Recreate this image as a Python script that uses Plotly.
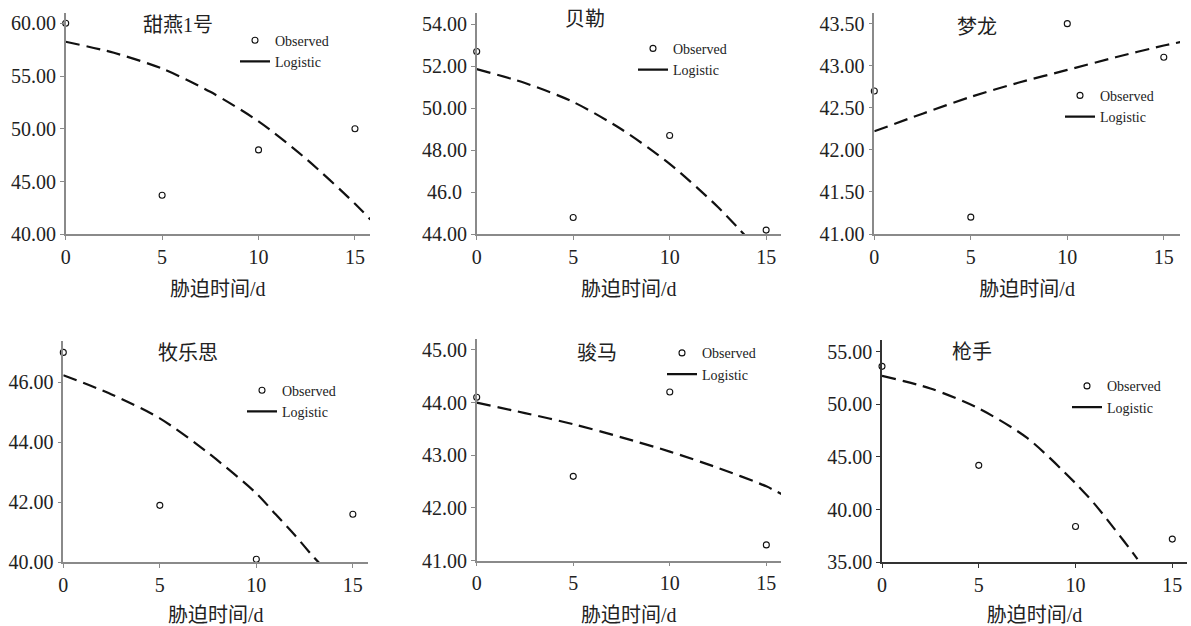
import plotly.graph_objects as go

W, H = 1191, 626

# ---------------- data ----------------
cultivars = ["甜燕1号", "贝勒", "梦龙", "牧乐思", "骏马", "枪手"]
days = [0, 5, 10, 15]

obs_tianyan = [60.0, 43.7, 48.0, 50.0]
obs_beile = [52.7, 44.8, 48.7, 44.2]
obs_menglong = [42.7, 41.2, 43.5, 43.1]
obs_mulesi = [47.0, 41.9, 40.1, 41.6]
obs_junma = [44.1, 42.6, 44.2, 41.3]
obs_qiangshou = [53.6, 44.2, 38.4, 37.2]

fit_x_tianyan = [0, 2.5, 5, 7.5, 10, 12.5, 15, 15.8]
fit_tianyan = [58.25, 57.2, 55.7, 53.5, 50.7, 47.1, 42.9, 41.4]
fit_x_beile = [0, 2.5, 5, 7.5, 10, 12.5, 13.9]
fit_beile = [51.86, 51.2, 50.3, 49.0, 47.35, 45.3, 43.95]
fit_x_menglong = [0, 2.5, 5, 7.5, 10, 12.5, 15, 15.85]
fit_menglong = [42.22, 42.43, 42.63, 42.8, 42.95, 43.1, 43.24, 43.28]
fit_x_mulesi = [0, 2.5, 5, 7.5, 10, 11, 12, 13, 13.3]
fit_mulesi = [46.24, 45.6, 44.8, 43.65, 42.3, 41.6, 40.9, 40.15, 39.95]
fit_x_junma = [0, 2.5, 5, 7.5, 10, 12.5, 15, 15.8]
fit_junma = [44.0, 43.8, 43.59, 43.34, 43.07, 42.76, 42.41, 42.26]
fit_x_qiangshou = [0, 2.5, 5, 7.5, 10, 11, 12, 13, 13.2]
fit_qiangshou = [52.7, 51.5, 49.6, 46.8, 42.5, 40.5, 38.2, 35.8, 35.3]

x_tickvals = [0, 5, 10, 15]
x_ticktext = ["0", "5", "10", "15"]

yticks_tianyan = [40, 45, 50, 55, 60]
ylabels_tianyan = ["40.00", "45.00", "50.00", "55.00", "60.00"]
yticks_beile = [44, 46, 48, 50, 52, 54]
ylabels_beile = ["44.00", "46.0 ", "48.00", "50.00", "52.00", "54.00"]
yticks_menglong = [41.0, 41.5, 42.0, 42.5, 43.0, 43.5]
ylabels_menglong = ["41.00", "41.50", "42.00", "42.50", "43.00", "43.50"]
yticks_mulesi = [40, 42, 44, 46]
ylabels_mulesi = ["40.00", "42.00", "44.00", "46.00"]
yticks_junma = [41, 42, 43, 44, 45]
ylabels_junma = ["41.00", "42.00", "43.00", "44.00", "45.00"]
yticks_qiangshou = [35, 40, 45, 50, 55]
ylabels_qiangshou = ["35.00", "40.00", "45.00", "50.00", "55.00"]

x_title = "胁迫时间/d"
legend_names = ["Observed", "Logistic"]

# ---------------- layout (pixel boxes) ----------------
panels = [
    dict(name=cultivars[0], obs=obs_tianyan, fx=fit_x_tianyan, fy=fit_tianyan,
         yt=yticks_tianyan, yl=ylabels_tianyan, xr=[0, 15.78], yr=[40, 61.0],
         box=(65.7, 370, 12.7, 234.3), title=(178, 25), leg=(235, 24.6), axc="#8a8a8a"),
    dict(name=cultivars[1], obs=obs_beile, fx=fit_x_beile, fy=fit_beile,
         yt=yticks_beile, yl=ylabels_beile, xr=[0, 15.77], yr=[44, 54.52],
         box=(476.7, 781, 13.3, 234.3), title=(585, 19), leg=(633, 32.8), axc="#8a8a8a"),
    dict(name=cultivars[2], obs=obs_menglong, fx=fit_x_menglong, fy=fit_menglong,
         yt=yticks_menglong, yl=ylabels_menglong, xr=[0, 15.84], yr=[41.0, 43.63],
         box=(874.3, 1180, 12.7, 234.0), title=(977, 27), leg=(1060, 79.8), axc="#8a8a8a"),
    dict(name=cultivars[3], obs=obs_mulesi, fx=fit_x_mulesi, fy=fit_mulesi,
         yt=yticks_mulesi, yl=ylabels_mulesi, xr=[0, 15.8], yr=[40, 47.39],
         box=(63.3, 368.3, 340.7, 562.3), title=(188, 353), leg=(242, 374.6), axc="#8a8a8a"),
    dict(name=cultivars[4], obs=obs_junma, fx=fit_x_junma, fy=fit_junma,
         yt=yticks_junma, yl=ylabels_junma, xr=[0, 15.76], yr=[41, 45.2],
         box=(476.7, 781, 339.3, 560.7), title=(597, 353), leg=(662, 337.3), axc="#8a8a8a"),
    dict(name=cultivars[5], obs=obs_qiangshou, fx=fit_x_qiangshou, fy=fit_qiangshou,
         yt=yticks_qiangshou, yl=ylabels_qiangshou, xr=[0, 15.76], yr=[35, 56.1],
         box=(882, 1187, 340, 562.3), title=(972, 352), leg=(1067, 370.3), axc="#333333"),
]

LATIN = "Liberation Serif, Tinos, Times New Roman, DejaVu Serif, serif"
MIXED = "Liberation Serif, Noto Sans CJK SC"
INK = "#222222"

fig = go.Figure()
layout = dict(
    width=W, height=H,
    margin=dict(l=0, r=0, t=0, b=0, autoexpand=False),
    paper_bgcolor="white", plot_bgcolor="white",
    showlegend=True,
    annotations=[],
)

for i, p in enumerate(panels):
    k = "" if i == 0 else str(i + 1)
    xa, ya = "x" + k, "y" + k
    lg = "legend" + k
    x0, x1, y0, y1 = p["box"]

    fig.add_trace(go.Scatter(
        x=p["fx"], y=p["fy"], mode="lines", xaxis=xa, yaxis=ya,
        line=dict(color="#111111", width=2.2, dash="14px,7px", shape="spline", smoothing=0.8),
        showlegend=False, hoverinfo="skip"))
    fig.add_trace(go.Scatter(
        x=days, y=p["obs"], mode="markers", xaxis=xa, yaxis=ya, name=legend_names[0],
        marker=dict(symbol="circle-open", size=6, color="#111111", line=dict(width=1.1)),
        cliponaxis=False, legend=lg, showlegend=True))
    # legend-only entry for the fitted curve
    fig.add_trace(go.Scatter(
        x=[None], y=[None], mode="lines", xaxis=xa, yaxis=ya, name=legend_names[1],
        line=dict(color="#111111", width=2.2), legend=lg, showlegend=True))

    layout["xaxis" + k] = dict(
        domain=[x0 / W, x1 / W], anchor=ya, range=p["xr"],
        tickvals=x_tickvals, ticktext=x_ticktext,
        showgrid=False, zeroline=False, showline=True, linecolor=p["axc"], linewidth=1.5,
        ticks="outside", ticklen=4, tickcolor=p["axc"], tickwidth=1,
        tickfont=dict(family=LATIN, size=20, color=INK),
        title=dict(text=x_title, font=dict(family=MIXED, size=20, color=INK), standoff=15),
    )
    layout["yaxis" + k] = dict(
        domain=[1 - y1 / H, 1 - y0 / H], anchor=xa, range=p["yr"],
        tickvals=p["yt"], ticktext=p["yl"],
        showgrid=False, zeroline=False, showline=True, linecolor=p["axc"], linewidth=1.5,
        ticks="outside", ticklen=4, tickcolor=p["axc"], tickwidth=1,
        tickfont=dict(family=LATIN, size=20, color=INK),
    )
    layout[lg] = dict(
        x=p["leg"][0] / W, y=1 - p["leg"][1] / H, xanchor="left", yanchor="top",
        bgcolor="rgba(0,0,0,0)", borderwidth=0, tracegroupgap=0,
        font=dict(family=LATIN, size=14, color=INK),
    )
    layout["annotations"].append(dict(
        text=p["name"], xref="paper", yref="paper",
        x=p["title"][0] / W, y=1 - p["title"][1] / H,
        xanchor="center", yanchor="middle", showarrow=False,
        font=dict(family=MIXED, size=20, color=INK)))

fig.update_layout(**layout)
fig.write_html("out.html")
